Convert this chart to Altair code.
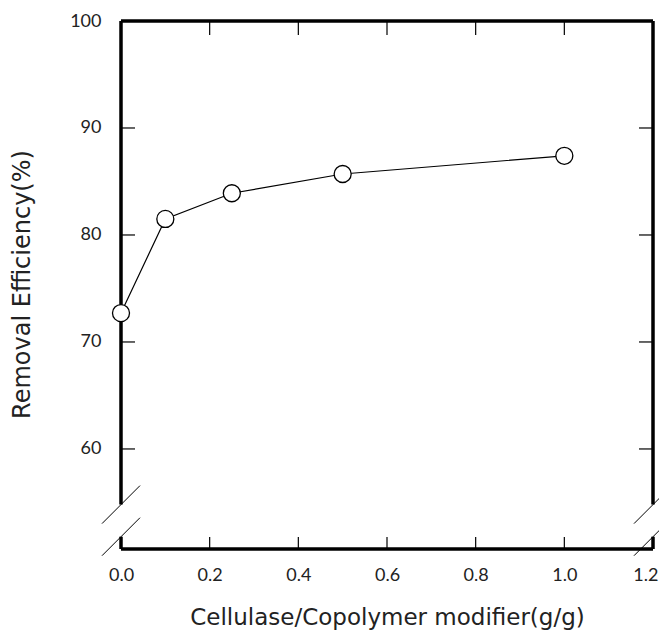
import altair as alt
import pandas as pd

# data
dose = [0.0, 0.1, 0.25, 0.5, 1.0]
eff = [72.7, 81.5, 83.9, 85.7, 87.4]
x_ticks = [0.2, 0.4, 0.6, 0.8, 1.0]
y_ticks = [60, 70, 80, 90]
x_labels = [0.0, 0.2, 0.4, 0.6, 0.8, 1.0, 1.2]
y_labels = [60, 70, 80, 90, 100]
XMIN, XMAX = 0.0, 1.2
YMIN, YMAX = 50.65, 100.0
BRK_HI, BRK_LO = 54.8, 51.8

LABEL_FONT = "Lato"
TITLE_FONT = "DejaVu Sans"
INK = "#222222"

df = pd.DataFrame({"x": dose, "y": eff})
xs = alt.Scale(domain=[XMIN, XMAX], nice=False, zero=False)
ys = alt.Scale(domain=[YMIN, YMAX], nice=False, zero=False)

frame = pd.DataFrame({
    "x":  [XMIN, XMIN, XMIN, XMIN, XMAX, XMAX],
    "x2": [XMAX, XMAX, XMIN, XMIN, XMAX, XMAX],
    "y":  [YMAX, YMIN, YMAX, BRK_LO, YMAX, BRK_LO],
    "y2": [YMAX, YMIN, BRK_HI, YMIN, BRK_HI, YMIN],
})

base = alt.Chart(df)

axes = base.mark_point(opacity=0).encode(
    x=alt.X("x:Q", scale=xs, axis=alt.Axis(
        values=x_labels, format=".1f", ticks=False, domain=False,
        grid=False, labelPadding=17, labelFontSize=18, labelFlush=False,
        labelAlign=alt.ExprRef(expr="datum.value > 1.19 ? 'right' : 'center'"),
        labelOffset=alt.ExprRef(expr="datum.value > 1.19 ? 5 : 0"),
        title="Cellulase/Copolymer modifier(g/g)",
        titleFontSize=23, titleBaseline="alphabetic",
        titleAlign="center", titleX=266, titleY=75)),
    y=alt.Y("y:Q", scale=ys, axis=alt.Axis(
        values=y_labels, format="d", ticks=False, domain=False,
        grid=False, labelPadding=20, labelFontSize=18, labelFlush=False,
        title="Removal Efficiency(%)", titleFontSize=24,
        titleBaseline="alphabetic", titleAlign="center",
        titleX=-92, titleY=263)),
)

frame_layer = alt.Chart(frame).mark_rule(color="black", strokeWidth=3.5, clip=False).encode(
    x=alt.X("x:Q", scale=xs), x2="x2:Q", y=alt.Y("y:Q", scale=ys), y2="y2:Q"
)

brk = pd.DataFrame({"x": [XMIN, XMIN, XMAX, XMAX], "y": [BRK_HI, BRK_LO, BRK_HI, BRK_LO]})
slashes = alt.Chart(brk).mark_rule(color="black", strokeWidth=1, clip=False,
                                   xOffset=-19, x2Offset=19, yOffset=19, y2Offset=-19).encode(
    x=alt.X("x:Q", scale=xs), y=alt.Y("y:Q", scale=ys),
    x2="x:Q", y2="y:Q",
)

tdf_top = pd.DataFrame({"x": x_ticks})
top_ticks = alt.Chart(tdf_top).mark_rule(color="black", strokeWidth=1.2).encode(
    x=alt.X("x:Q", scale=xs), y=alt.value(0), y2=alt.value(14)
)
bot_ticks = alt.Chart(tdf_top).mark_rule(color="black", strokeWidth=1.2).encode(
    x=alt.X("x:Q", scale=xs), y=alt.value(528), y2=alt.value(516)
)
tdf_y = pd.DataFrame({"y": y_ticks})
left_ticks = alt.Chart(tdf_y).mark_rule(color="black", strokeWidth=1.2).encode(
    y=alt.Y("y:Q", scale=ys), x=alt.value(0), x2=alt.value(14)
)
right_ticks = alt.Chart(tdf_y).mark_rule(color="black", strokeWidth=1.2).encode(
    y=alt.Y("y:Q", scale=ys), x=alt.value(532), x2=alt.value(518)
)

line = base.mark_line(color="black", strokeWidth=1.2).encode(
    x=alt.X("x:Q", scale=xs), y=alt.Y("y:Q", scale=ys)
)
pts = base.mark_point(shape="circle", filled=True, fill="white", stroke="black",
                      strokeWidth=1.3, size=290, opacity=1).encode(
    x=alt.X("x:Q", scale=xs), y=alt.Y("y:Q", scale=ys)
)

chart = alt.layer(axes, top_ticks, bot_ticks, left_ticks, right_ticks, frame_layer,
                  slashes, line, pts).properties(
    width=532, height=528,
    autosize=alt.AutoSizeParams(type="none"),
    padding={"left": 113, "top": 13, "right": 6, "bottom": 84},
).configure_view(stroke=None).configure_axis(
    labelFont=LABEL_FONT, titleFont=TITLE_FONT, labelColor=INK, titleColor=INK,
    titleFontWeight="normal",
)

chart.save("out.html", embed_options={"renderer": "svg", "actions": False})
